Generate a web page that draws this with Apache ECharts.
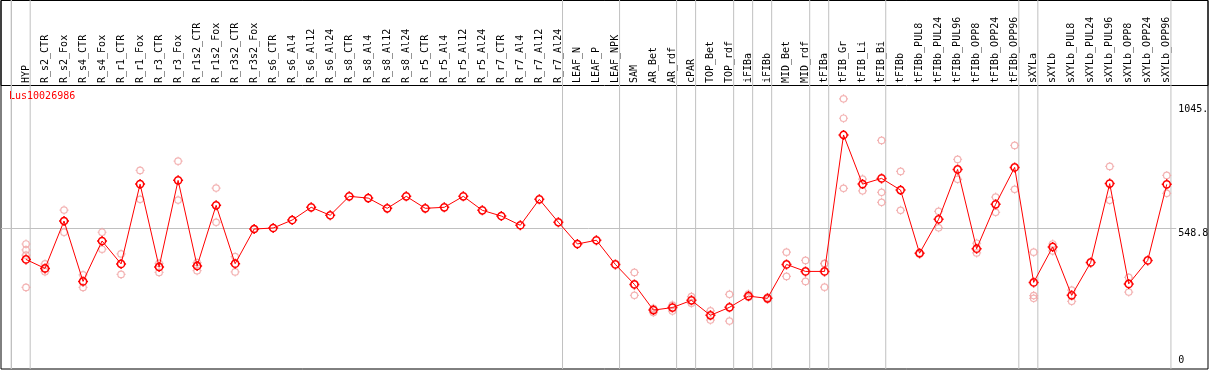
<!DOCTYPE html>
<html><head><meta charset="utf-8">
<script src="https://cdn.jsdelivr.net/npm/echarts@6/dist/echarts.min.js"></script>
<style>html,body{margin:0;padding:0;background:#fff}#c{width:1209px;height:370px}</style>
</head><body><div id="c"></div>
<script>
const chartTitle = 'Lus10026986';
const categories = ['HYP','R_s2_CTR','R_s2_Fox','R_s4_CTR','R_s4_Fox','R_r1_CTR','R_r1_Fox','R_r3_CTR','R_r3_Fox','R_r1s2_CTR','R_r1s2_Fox','R_r3s2_CTR','R_r3s2_Fox','R_s6_CTR','R_s6_Al4','R_s6_Al12','R_s6_Al24','R_s8_CTR','R_s8_Al4','R_s8_Al12','R_s8_Al24','R_r5_CTR','R_r5_Al4','R_r5_Al12','R_r5_Al24','R_r7_CTR','R_r7_Al4','R_r7_Al12','R_r7_Al24','LEAF_N','LEAF_P','LEAF_NPK','SAM','AR_Bet','AR_rdf','cPAR','TOP_Bet','TOP_rdf','iFIBa','iFIBb','MID_Bet','MID_rdf','tFIBa','tFIB_Gr','tFIB_Li','tFIB_Bi','tFIBb','tFIBb_PUL8','tFIBb_PUL24','tFIBb_PUL96','tFIBb_OPP8','tFIBb_OPP24','tFIBb_OPP96','sXYLa','sXYLb','sXYLb_PUL8','sXYLb_PUL24','sXYLb_PUL96','sXYLb_OPP8','sXYLb_OPP24','sXYLb_OPP96'];
const means = [424,388,578,336,498,406,726,394,741,398,641,407,546,550,582,633,601,677,670,629,677,629,633,677,621,598,561,665,573,486,501,404,324,221,231,260,200,232,277,268,404,376,376,923,726,749,702,449,585,785,467,645,793,332,474,280,412,728,326,420,725];
const replicates = [
  [486,462,441,312],[406,388,375],[622,533,579],[362,312],[533,465],[446,364],[781,665],[408,372],[818,662],[411,379],
  [710,573],[435,374],[547,545],[],[],[],[],[],[],[],
  [],[],[],[],[],[],[],[],[],[],
  [],[],[372,324,280],[228,211,224],[241,217],[275,248],[218,181],[284,177],[285,272],[272,264],
  [453,356],[420,336],[408,407,313],[1068,990,709],[746,699],[901,693,653],[777,621],[451,446],[617,551],[825,745],
  [489,450],[674,613],[881,705],[453,279,268],[486,458],[301,256],[],[797,661],[352,293],[],
  [761,689]
];
const groupEnds = [-1,0,28,31,34,35,37,38,39,41,42,45,52,53,60];
const tickValues = [1045, 548.8, 0];
const tickLabels = ['1045.', '548.8', '0'];

const FONT = 'DejaVu Sans Mono';
const xMin = -1.315, xMax = 62.17;
const yMin = -15.2, yMax = 1464.1;
const markerPath = 'path://M5,0L5,1.6M5,8.4L5,10M0,5L1.6,5M8.4,5L10,5M8.6,5A3.6,3.6,0,1,1,1.4,5A3.6,3.6,0,1,1,8.6,5Z';

const meanData = means.map((v, i) => [i, v]);
const repData = [];
replicates.forEach((arr, i) => arr.forEach(v => repData.push([i, v])));

const sepData = [];
groupEnds.forEach(g => { sepData.push([g + 0.22, yMin], [g + 0.22, yMax], ['-', '-']); });

const tickLines = tickValues.map((v, k) => ([
  { xAxis: xMin, yAxis: v,
    lineStyle: { color: v === 548.8 ? '#c0c0c0' : 'rgba(255,255,255,0)', width: 1, type: 'solid' },
    label: { show: true, position: 'end', distance: 2, formatter: tickLabels[k],
      fontFamily: FONT, fontSize: 10, color: '#000', align: 'left',
      verticalAlign: v === 0 ? 'bottom' : 'top' } },
  { xAxis: 60.5, yAxis: v }
]));

const chart = echarts.init(document.getElementById('c'), null, { renderer: 'canvas' });
chart.setOption({
  animation: false,
  backgroundColor: '#fff',
  title: { text: chartTitle, left: 4, top: 86,
    textStyle: { fontFamily: FONT, fontSize: 10, fontWeight: 'normal', color: '#ff0000' } },
  grid: [
    { left: 1, top: 0.5, right: 1, bottom: 1, show: true, borderColor: '#000', borderWidth: 1, backgroundColor: 'transparent' },
    { left: 1, top: 0.5, right: 1, height: 85, show: true, borderColor: '#000', borderWidth: 1, backgroundColor: 'transparent' },
    { left: 16.494, width: 1159.73, top: 85, height: 280 },
    { left: 1, top: 0, right: 1, bottom: 1 }
  ],
  xAxis: [
    { gridIndex: 0, type: 'value', show: false },
    { gridIndex: 1, type: 'value', show: false },
    { gridIndex: 2, type: 'category', data: categories, position: 'top', boundaryGap: true,
      axisLine: { show: false }, axisTick: { show: false }, splitLine: { show: false },
      axisLabel: { interval: 0, rotate: 90, margin: 2, fontFamily: FONT, fontSize: 10, color: '#000' } },
    { gridIndex: 3, type: 'value', min: xMin, max: xMax, show: false }
  ],
  yAxis: [
    { gridIndex: 0, type: 'value', show: false },
    { gridIndex: 1, type: 'value', show: false },
    { gridIndex: 2, type: 'value', show: false },
    { gridIndex: 3, type: 'value', min: yMin, max: yMax, show: false }
  ],
  series: [
    { type: 'line', xAxisIndex: 3, yAxisIndex: 3, data: sepData, z: 1, silent: true,
      showSymbol: false, symbol: 'none', connectNulls: false,
      lineStyle: { color: '#c0c0c0', width: 1 } },
    { type: 'scatter', xAxisIndex: 3, yAxisIndex: 3, data: repData, z: 3,
      symbol: markerPath, symbolSize: 9,
      itemStyle: { color: 'rgba(0,0,0,0)', borderColor: '#f0a0a0', borderWidth: 1.2 },
      markLine: { silent: true, symbol: ['none', 'none'], animation: false, z: 1,
        lineStyle: { color: '#c0c0c0', width: 1, type: 'solid' },
        label: { show: false },
        data: tickLines } },
    { type: 'line', xAxisIndex: 3, yAxisIndex: 3, data: meanData, z: 4,
      symbol: markerPath, symbolSize: 10, showAllSymbol: true,
      lineStyle: { color: '#ff0000', width: 1 },
      itemStyle: { color: 'rgba(0,0,0,0)', borderColor: '#ff0000', borderWidth: 1.5 } }
  ]
});

const firstSep = groupEnds[0] + 0.22;
const pTop = chart.convertToPixel({ xAxisIndex: 3, yAxisIndex: 3 }, [firstSep, yMax]);
const pBot = chart.convertToPixel({ xAxisIndex: 3, yAxisIndex: 3 }, [firstSep, yMin]);
if (pTop && pBot) {
  chart.setOption({
    graphic: [{ type: 'line', silent: true, z: 100,
      shape: { x1: Math.round(pTop[0]) + 0.5, y1: pTop[1], x2: Math.round(pBot[0]) + 0.5, y2: pBot[1] },
      style: { stroke: '#c0c0c0', lineWidth: 1 } }]
  });
}
</script>
</body></html>
